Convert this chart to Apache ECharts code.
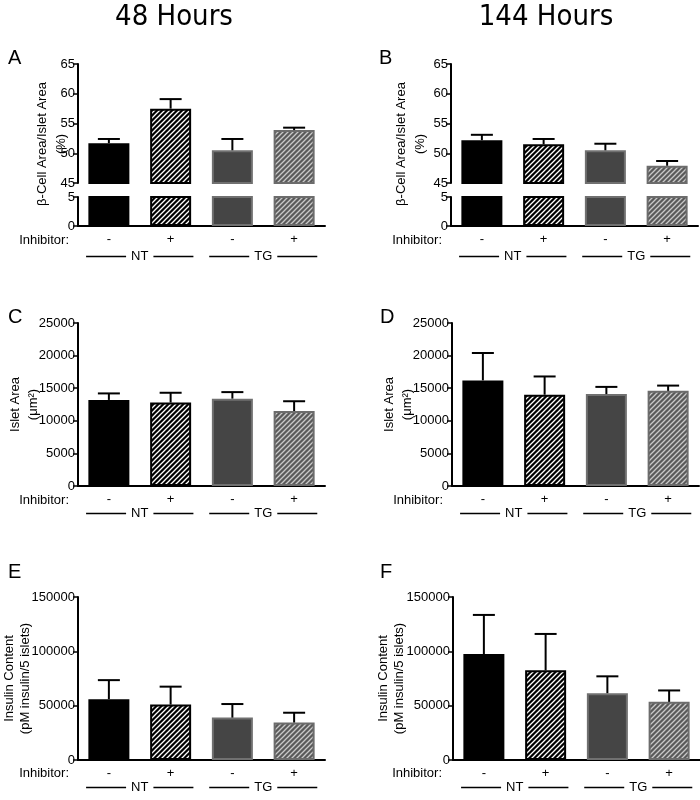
<!DOCTYPE html>
<html>
<head>
<meta charset="utf-8">
<script src="https://cdn.jsdelivr.net/npm/echarts@6/dist/echarts.min.js"></script>
<style>
html,body{margin:0;padding:0;background:#fff;}
#main{width:700px;height:800px;}
</style>
</head>
<body>
<div id="main"></div>
<script>
// categories / groups
var inhibitor = ['-', '+', '-', '+'];
var groups = ['NT', 'TG'];

// beta-cell area / islet area (%)
var betaA = [51.7, 57.5, 50.5, 53.9];
var betaAErr = [0.7, 1.6, 1.9, 0.4];
var betaB = [52.2, 51.5, 50.5, 47.9];
var betaBErr = [0.9, 0.9, 1.1, 0.8];

// islet area (um2)
var isletC = [13200, 12800, 13400, 11500];
var isletCErr = [1000, 1500, 1000, 1500];
var isletD = [16200, 14000, 14100, 14600];
var isletDErr = [4200, 2800, 1100, 800];

// insulin content (pM insulin/5 islets)
var insE = [56000, 51000, 39000, 34500];
var insEErr = [17500, 16500, 12500, 9000];
var insF = [97500, 82500, 61500, 53500];
var insFErr = [36000, 33500, 15500, 10500];

var FONT = '"Liberation Sans", Arial, sans-serif';
var TITLEFONT = '"Liberation Sans Narrow", "DejaVu Sans Condensed", sans-serif';

function hatch(bg, fg){
	var c = document.createElement('canvas');
	c.width = 5; c.height = 5;
	var ctx = c.getContext('2d');
	ctx.fillStyle = bg;
	ctx.fillRect(0, 0, 5, 5);
	ctx.strokeStyle = fg;
	ctx.lineWidth = 1.3;
	ctx.beginPath();
	ctx.moveTo(0, 5); ctx.lineTo(5, 0);
	ctx.moveTo(-1, 1); ctx.lineTo(1, -1);
	ctx.moveTo(4, 6); ctx.lineTo(6, 4);
	ctx.stroke();
	return {image: c, repeat: 'repeat'};
}

// bar looks: black, black hatched, dark grey, grey hatched
var barStyles = [
	{color: '#000', borderColor: '#000', borderWidth: 2},
	{color: hatch('#000', '#fff'), borderColor: '#000', borderWidth: 2},
	{color: '#454545', borderColor: '#707070', borderWidth: 2},
	{color: hatch('#5a5a5a', '#c8c8c8'), borderColor: '#6c6c6c', borderWidth: 2}
];

function barData(vals){
	var out = [];
	for(var i=0;i<vals.length;i++){
		out.push({value: vals[i], itemStyle: barStyles[i]});
	}
	return out;
}
function errData(vals, errs){
	var out = [];
	for(var i=0;i<vals.length;i++){
		out.push([i, vals[i], errs[i]]);
	}
	return out;
}
function errRender(params, api){
	var p0 = api.coord([api.value(0), api.value(1)]);
	var p1 = api.coord([api.value(0), api.value(1) + api.value(2)]);
	var hw = 11;
	return {type: 'group', children: [
		{type: 'line', shape: {x1: p0[0], y1: p0[1], x2: p1[0], y2: p1[1]}, style: {stroke: '#000', lineWidth: 2}},
		{type: 'line', shape: {x1: p1[0]-hw, y1: p1[1], x2: p1[0]+hw, y2: p1[1]}, style: {stroke: '#000', lineWidth: 2}}
	]};
}

var grid = [], xAxis = [], yAxis = [], series = [];

function yAx(gi, min, max, interval, name, gap, lh){
	var y = {
		gridIndex: gi, type: 'value', min: min, max: max, interval: interval,
		axisLine: {show: true, lineStyle: {color: '#000', width: 2}},
		axisTick: {show: true, length: 5, lineStyle: {color: '#000', width: 1.5}},
		axisLabel: {color: '#000', fontSize: 13, fontFamily: FONT, margin: 3, formatter: function(v){ return String(v); }},
		splitLine: {show: false}
	};
	if(name){
		y.name = name;
		y.nameLocation = 'middle';
		y.nameGap = gap;
		y.nameMoveOverlap = false;
		y.nameTextStyle = {color: '#000', fontSize: 13, fontFamily: FONT, lineHeight: lh};
	}
	yAxis.push(y);
	return yAxis.length - 1;
}
function catAx(gi, visible){
	xAxis.push({
		gridIndex: gi, type: 'category', data: inhibitor,
		axisLine: {show: visible, onZero: false, lineStyle: {color: '#000', width: 2}},
		axisTick: {show: false},
		axisLabel: {show: visible, color: '#000', fontSize: 13, fontFamily: FONT, margin: 7}
	});
	return xAxis.length - 1;
}
function groupAx(gi, off){
	xAxis.push({
		gridIndex: gi, type: 'category', data: groups, position: 'bottom', offset: off,
		axisLine: {show: false}, axisTick: {show: false},
		axisLabel: {
			color: '#000', fontSize: 13, fontFamily: FONT, margin: 0,
			formatter: '{l| }{t|{value}}{l| }',
			rich: {
				l: {width: 40, height: 1.5, backgroundColor: '#000'},
				t: {padding: [0, 5], fontSize: 13, fontFamily: FONT, color: '#000'}
			}
		}
	});
}
function addBars(xi, yi, vals, errs, withErr){
	series.push({type: 'bar', xAxisIndex: xi, yAxisIndex: yi, barWidth: 41, clip: true, data: barData(vals)});
	if(withErr){
		series.push({type: 'custom', xAxisIndex: xi, yAxisIndex: yi, renderItem: errRender, clip: false, data: errData(vals, errs), z: 3});
	}
}
function addGrid(left, top, h){
	grid.push({left: left, top: top, width: 247, height: h, outerBoundsMode: 'none', containLabel: false});
	return grid.length - 1;
}

// broken-axis panel (A / B)
function brokenPanel(left, vals, errs){
	var gU = addGrid(left, 64, 119);
	var xU = catAx(gU, false);
	var yU = yAx(gU, 45, 65, 5);
	addBars(xU, yU, vals, errs, true);
	var gL = addGrid(left, 197, 29);
	var xL = catAx(gL, true);
	groupAx(gL, 24);
	var yL = yAx(gL, 0, 5, 5);
	addBars(xL, yL, vals, errs, false);
}
function simplePanel(left, top, vals, errs, min, max, interval, name, gap, lh, off){
	var g = addGrid(left, top, 163);
	var xi = catAx(g, true);
	groupAx(g, off);
	var yi = yAx(g, min, max, interval, name, gap, lh);
	addBars(xi, yi, vals, errs, true);
}

brokenPanel(78, betaA, betaAErr);
brokenPanel(451, betaB, betaBErr);
simplePanel(78, 323, isletC, isletCErr, 0, 25000, 5000, 'Islet Area\n(μm²)', 36, 18, 21);
simplePanel(452, 323, isletD, isletDErr, 0, 25000, 5000, 'Islet Area\n(μm²)', 36, 18, 21);
simplePanel(78, 597, insE, insEErr, 0, 150000, 50000, 'Insulin Content\n(pM insulin/5 islets)', 45, 16, 21);
simplePanel(453, 597, insF, insFErr, 0, 150000, 50000, 'Insulin Content\n(pM insulin/5 islets)', 46, 16, 21);

function txt(x, y, s, size, align){
	return {type: 'text', x: x, y: y, style: {text: s, fill: '#000', fontSize: size, fontFamily: FONT, align: align || 'left', verticalAlign: 'middle'}};
}
var graphic = [
	{type: 'text', x: 174, y: 17, style: {text: '48 Hours', fill: '#000', fontSize: 29, fontFamily: TITLEFONT, align: 'center', verticalAlign: 'middle'}},
	{type: 'text', x: 546, y: 17, style: {text: '144 Hours', fill: '#000', fontSize: 29, fontFamily: TITLEFONT, align: 'center', verticalAlign: 'middle'}},
	txt(8, 58, 'A', 20), txt(379, 58, 'B', 20),
	txt(8, 317, 'C', 20), txt(380, 317, 'D', 20),
	txt(8, 572, 'E', 20), txt(380, 572, 'F', 20),
	txt(69, 240, 'Inhibitor:', 13, 'right'), txt(442, 240, 'Inhibitor:', 13, 'right'),
	txt(69, 500, 'Inhibitor:', 13, 'right'), txt(443, 500, 'Inhibitor:', 13, 'right'),
	txt(69, 773, 'Inhibitor:', 13, 'right'), txt(442, 773, 'Inhibitor:', 13, 'right'),
	{type: 'text', x: 52, y: 144, rotation: Math.PI/2, style: {text: 'β-Cell Area/Islet Area\n(%)', fill: '#000', fontSize: 13, fontFamily: FONT, lineHeight: 19, align: 'center', verticalAlign: 'middle'}},
	{type: 'text', x: 411, y: 144, rotation: Math.PI/2, style: {text: 'β-Cell Area/Islet Area\n(%)', fill: '#000', fontSize: 13, fontFamily: FONT, lineHeight: 19, align: 'center', verticalAlign: 'middle'}}
];

var myChart = echarts.init(document.getElementById('main'), null, {renderer: 'canvas'});
myChart.setOption({
	backgroundColor: '#fff',
	animation: false,
	grid: grid,
	xAxis: xAxis,
	yAxis: yAxis,
	series: series,
	graphic: graphic
});
</script>
</body>
</html>
